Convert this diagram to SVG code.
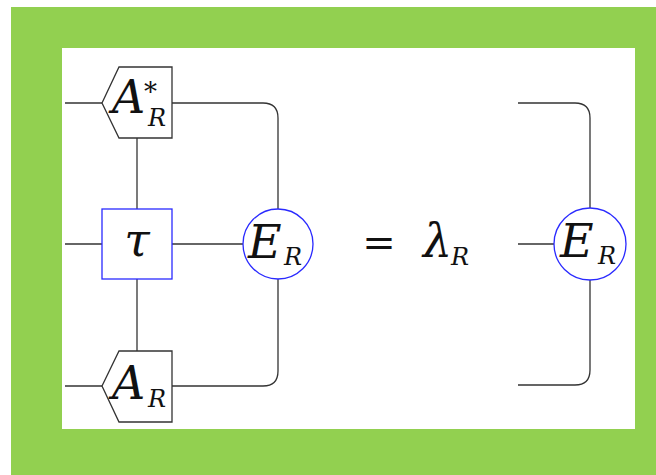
<svg xmlns="http://www.w3.org/2000/svg" width="656" height="475" viewBox="0 0 656 475">
<style>
.ln{fill:none;stroke:#333;stroke-width:1.3}
.sh{fill:#fff;stroke:#333;stroke-width:1.3}
.bl{fill:#fff;stroke:#2a2aff;stroke-width:1.3}
.m{font-family:"DejaVu Serif","Liberation Serif",serif;font-style:italic;font-weight:normal;fill:#111}
.big{font-size:46px}
.sub{font-size:24px}
.up{font-family:"DejaVu Serif","Liberation Serif",serif;font-weight:normal;fill:#111}
</style>
<rect x="11" y="7" width="645" height="468" fill="#92d050"/>
<rect x="62" y="48" width="573" height="381" fill="#fff"/>
<g id="connectors">
<path class="ln" d="M65 103 H102"/>
<path class="ln" d="M65 244 H102"/>
<path class="ln" d="M65 386 H102"/>
<path class="ln" d="M137 138 V209"/>
<path class="ln" d="M137 279 V351"/>
<path class="ln" d="M172 244 H243"/>
<path class="ln" d="M172 103 H263 Q278 103 278 118 V209"/>
<path class="ln" d="M172 386 H263 Q278 386 278 371 V279"/>
<path class="ln" d="M518 103 H575 Q590 103 590 118 V208"/>
<path class="ln" d="M518 385 H575 Q590 385 590 370 V280"/>
<path class="ln" d="M518 244 H554"/>
</g>
<g id="A_star">
<polygon class="sh" points="102,103 119,67 172,67 172,138 119,138"/>
<text class="m big" x="112" y="113">A</text>
<text class="up" x="144" y="101" font-size="26">*</text>
<text class="m sub" x="148" y="126">R</text>
</g>
<g id="tau">
<rect class="bl" x="102" y="209" width="70" height="70"/>
<text class="m big" x="137" y="256" text-anchor="middle">τ</text>
</g>
<g id="A">
<polygon class="sh" points="102,386 119,351 172,351 172,422 119,422"/>
<text class="m big" x="112" y="399">A</text>
<text class="m sub" x="148" y="407">R</text>
</g>
<g id="E_left">
<circle class="bl" cx="278" cy="244" r="35"/>
<text class="m big" x="248" y="258">E</text>
<text class="m sub" x="284" y="265">R</text>
</g>
<g id="equals">
<text class="up" x="379" y="256" font-size="40" text-anchor="middle">=</text>
<text class="m big" x="423" y="257">λ</text>
<text class="m sub" x="451" y="265">R</text>
</g>
<g id="E_right">
<circle class="bl" cx="590" cy="244" r="36"/>
<text class="m big" x="560" y="257">E</text>
<text class="m sub" x="598" y="264">R</text>
</g>
</svg>
